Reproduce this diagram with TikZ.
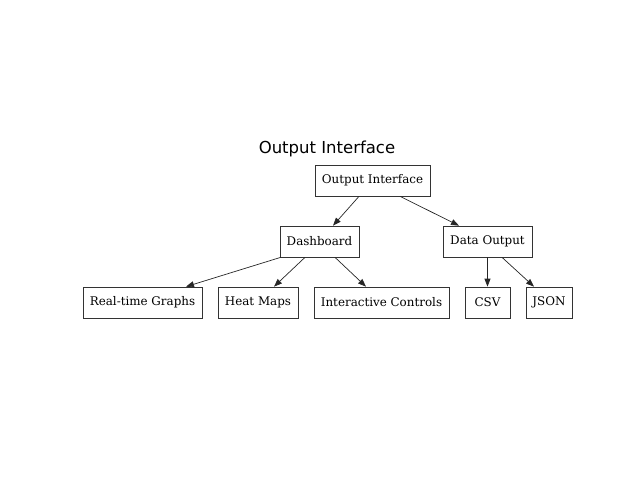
\documentclass[tikz,border=0pt]{standalone}
\usepackage{fontspec}
\newfontfamily\titlefont{DejaVu Sans}
\newfontfamily\boxfont{DejaVu Serif}
\usetikzlibrary{arrows.meta}
\begin{document}
\begin{tikzpicture}[x=1pt,y=-1pt,
  box/.style={draw=black!80,line width=0.7pt,minimum height=31pt,inner sep=0pt,font=\boxfont\fontsize{11.9}{14}\selectfont},
  conn/.style={draw=black!85,line width=0.7pt,-{Triangle[length=8pt,width=6pt]}}]
\useasboundingbox (0,0) rectangle (640,480);
\node[font=\titlefont\fontsize{16.5}{19}\selectfont] (title) at (327,148.5) {Output Interface};
\node[box,minimum width=115pt] (oi) at (372.5,180.5) {Output Interface};
\node[box,minimum width=79pt] (dash) at (319.5,241.5) {Dashboard};
\node[box,minimum width=89pt] (dout) at (487.5,241.5) {Data Output};
\node[box,minimum width=119pt] (rt) at (142.5,302.5) {Real-time Graphs};
\node[box,minimum width=80pt] (hm) at (258,302.5) {Heat Maps};
\node[box,minimum width=135pt] (ic) at (381.5,302.5) {Interactive Controls};
\node[box,minimum width=45pt] (csv) at (487.5,302.5) {CSV};
\node[box,minimum width=46pt] (json) at (549,302.5) {JSON};
\draw[conn] ([xshift=-13.5pt]oi.south) -- ([xshift=13.5pt]dash.north);
\draw[conn] ([xshift=27.5pt]oi.south) -- ([xshift=-28.5pt]dout.north);
\draw[conn] ([xshift=1pt]dash.south west) -- ([xshift=43.5pt]rt.north);
\draw[conn] ([xshift=-14.5pt]dash.south) -- ([xshift=16pt]hm.north);
\draw[conn] ([xshift=15.5pt]dash.south) -- ([xshift=-15.5pt]ic.north);
\draw[conn] (dout.south) -- (csv.north);
\draw[conn] ([xshift=14.5pt]dout.south) -- ([xshift=-15pt]json.north);
\end{tikzpicture}
\end{document}
